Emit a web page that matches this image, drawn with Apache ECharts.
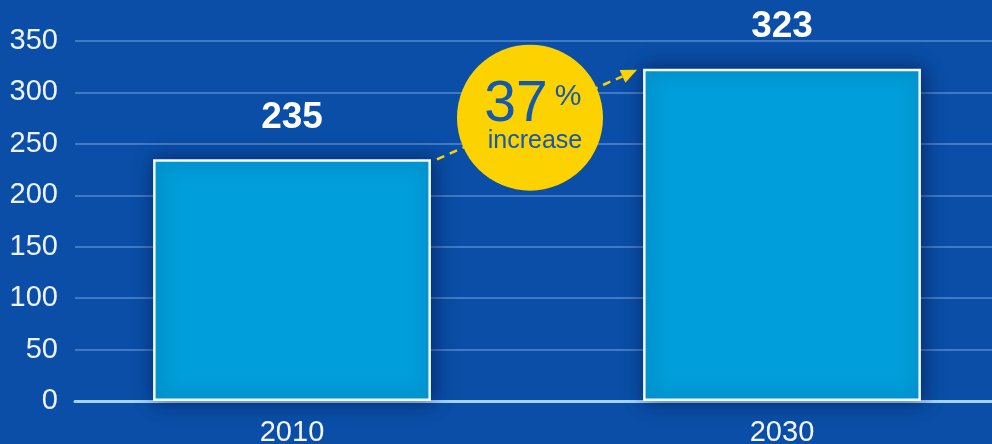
<!DOCTYPE html>
<html>
<head>
<meta charset="utf-8">
<script src="https://cdn.jsdelivr.net/npm/echarts@6/dist/echarts.min.js"></script>
<style>
html,body{margin:0;padding:0;background:#0a4ea7;}
#c{width:992px;height:444px;}
</style>
</head>
<body>
<div id="c"></div>
<script>
var categories = ['2010', '2030'];
var values = [235, 323];
var yTicks = [0, 50, 100, 150, 200, 250, 300, 350];
var badgeMain = '37';
var badgeUnit = '%';
var badgeSub = 'increase';

var FONT = '"Liberation Sans", Arial, sans-serif';
var chart = echarts.init(document.getElementById('c'));
var yMin = yTicks[0], yMax = yTicks[yTicks.length - 1], yStep = yTicks[1] - yTicks[0];

chart.setOption({
  backgroundColor: '#0a4ea7',
  animation: false,
  grid: [
    {left: 75, right: 0, top: 41, bottom: 43, outerBoundsMode: 'none', containLabel: false},
    {left: 47, right: -35, top: 41, bottom: 43, outerBoundsMode: 'none', containLabel: false}
  ],
  xAxis: [
    {type: 'category', gridIndex: 0, data: categories,
     axisLine: {show: true, lineStyle: {color: '#a6d3f2', width: 3}},
     axisTick: {show: false}, axisLabel: {show: false}, splitLine: {show: false}},
    {type: 'category', gridIndex: 1, data: categories,
     axisLine: {show: false}, axisTick: {show: false},
     axisLabel: {color: '#f2f6fc', fontSize: 29, fontFamily: FONT, margin: 17}}
  ],
  yAxis: [
    {type: 'value', gridIndex: 0, min: yMin, max: yMax, interval: yStep,
     axisLine: {show: false}, axisTick: {show: false},
     axisLabel: {color: '#eef3fb', fontSize: 29, fontFamily: FONT, margin: 17},
     splitLine: {lineStyle: {color: '#4079c4', width: 2}}},
    {type: 'value', gridIndex: 1, min: yMin, max: yMax, interval: yStep, show: false,
     splitLine: {show: false}}
  ],
  series: [{
    type: 'bar', xAxisIndex: 1, yAxisIndex: 1,
    data: values, barWidth: '56.7%',
    itemStyle: {color: '#009edb', borderColor: '#f4fbff', borderWidth: 2.5,
      shadowColor: 'rgba(0,10,50,0.5)', shadowBlur: 18, shadowOffsetX: 2},
    label: {show: true, position: 'top', distance: 23, color: '#ffffff',
      fontSize: 37, fontWeight: 'bold', fontFamily: FONT}
  }]
});

// annotation geometry derived from the library's own scales
var px0 = chart.convertToPixel({xAxisIndex: 1}, categories[0]);
var px1 = chart.convertToPixel({xAxisIndex: 1}, categories[1]);
var band = px1 - px0;
var bw = band * 0.567;
var y0 = chart.convertToPixel({yAxisIndex: 1}, values[0]);
var y1 = chart.convertToPixel({yAxisIndex: 1}, values[1]);
var sx = px0 + bw / 2 + 6, sy = y0;
var ex = px1 - bw / 2 - 6, ey = y1 + 1;
var ang = Math.atan2(ey - sy, ex - sx);
var ah = 16, aw = 7;
var bx = ex - ah * Math.cos(ang), by = ey - ah * Math.sin(ang);
var t = 0.465;
var cx = sx + (ex - sx) * t, cy = sy + (ey - sy) * t;
var YEL = '#fcd200', TXT = '#1459ac';

chart.setOption({
  graphic: [
    {type: 'line', shape: {x1: sx, y1: sy, x2: bx, y2: by},
     style: {stroke: YEL, lineWidth: 2.5, lineDash: [8, 6]}, z: 10},
    {type: 'polygon', shape: {points: [
      [ex, ey],
      [bx - aw * Math.sin(ang), by + aw * Math.cos(ang)],
      [bx + aw * Math.sin(ang), by - aw * Math.cos(ang)]
    ]}, style: {fill: YEL}, z: 10},
    {type: 'circle', shape: {cx: cx, cy: cy, r: 73}, style: {fill: YEL}, z: 11},
    {type: 'text', x: cx - 14, y: cy - 12, z: 12,
     style: {text: badgeMain, fill: TXT, font: '57px ' + FONT, align: 'center', verticalAlign: 'middle'}},
    {type: 'text', x: cx + 38, y: cy - 21, z: 12,
     style: {text: badgeUnit, fill: TXT, font: '30px ' + FONT, align: 'center', verticalAlign: 'middle'}},
    {type: 'text', x: cx + 5, y: cy + 23, z: 12,
     style: {text: badgeSub, fill: TXT, font: '25px ' + FONT, align: 'center', verticalAlign: 'middle'}}
  ]
});
</script>
</body>
</html>
